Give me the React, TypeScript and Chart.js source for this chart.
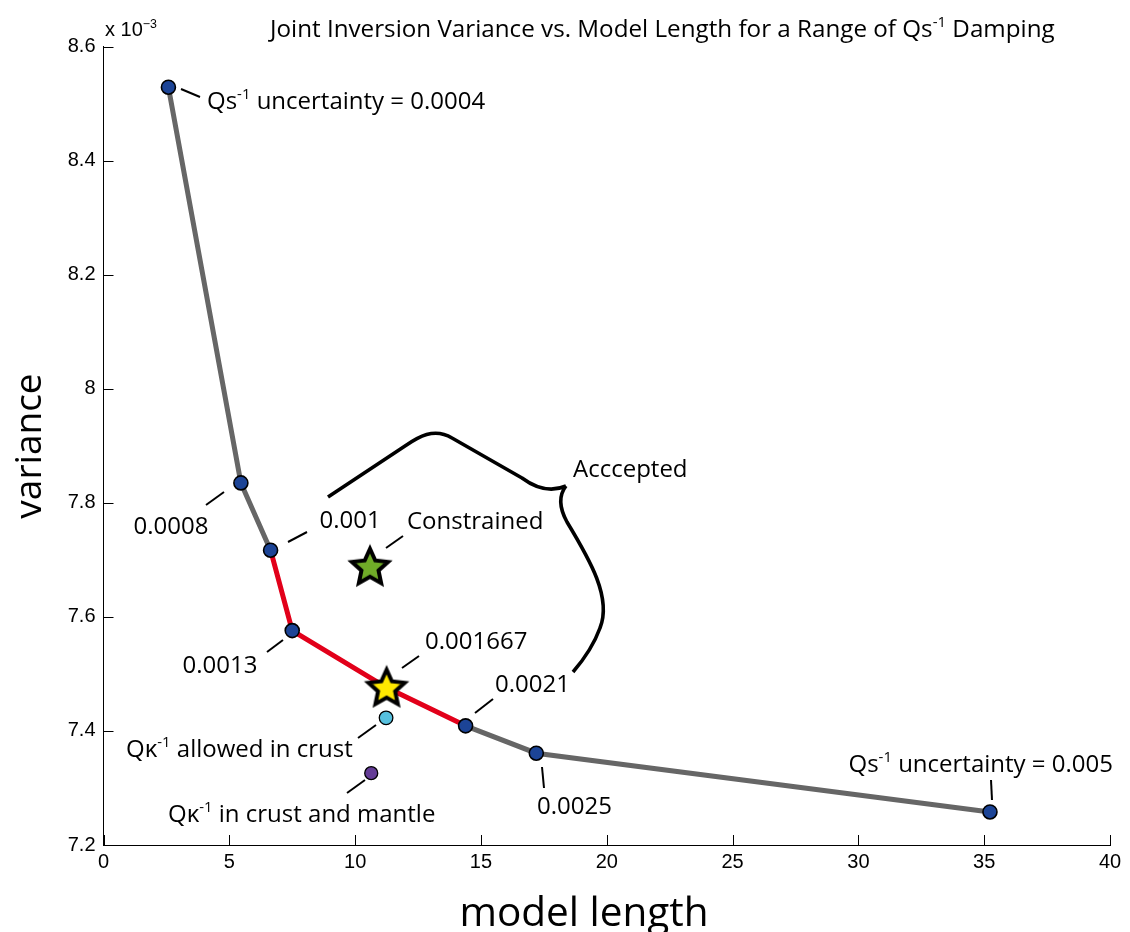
import React, { useEffect, useRef } from 'react';
import { Chart, registerables } from 'chart.js';

Chart.register(...registerables);

// ---------------- data ----------------
const dampingLabels = ['0.0004', '0.0008', '0.001', '0.0013', '0.001667', '0.0021', '0.0025', '0.005'];
const modelLength = [2.58, 5.46, 6.64, 7.5, 11.25, 14.39, 17.2, 35.23];
const variance = [8.529, 7.835, 7.717, 7.576, 7.476, 7.409, 7.361, 7.258]; // x 10^-3
const acceptedFirst = 2; // first index of the accepted (red) part
const acceptedLast = 5; // last index of the accepted (red) part
const selectedIndex = 4; // 0.001667 -> yellow star

const constrainedLength = [10.59];
const constrainedVariance = [7.688];
const crustLength = [11.23];
const crustVariance = [7.423];
const mantleLength = [10.64];
const mantleVariance = [7.326];

const xTicks = [0, 5, 10, 15, 20, 25, 30, 35, 40];
const yTicks = [7.2, 7.4, 7.6, 7.8, 8.0, 8.2, 8.4, 8.6];

const titleText = 'Joint Inversion Variance vs. Model Length for a Range of Qs';
const xTitle = 'model length';
const yTitle = 'variance';

// ---------------- styles ----------------
const GRAY = 'rgb(102,102,102)';
const RED = 'rgb(226,0,26)';
const BLUE = 'rgb(28,68,150)';
const CYAN = 'rgb(86,192,222)';
const PURPLE = 'rgb(100,60,150)';
const YELLOW = 'rgb(255,232,0)';
const GREEN = 'rgb(112,172,40)';
const ANN_FONT = '"Open Sans", "Noto Sans", sans-serif';
const TICK_FONT = '"Liberation Sans", Arial, sans-serif';

type Part = { t: string; sup?: boolean };

function makeStar(fill: string): HTMLCanvasElement {
  const c = document.createElement('canvas');
  c.width = 50;
  c.height = 50;
  const g = c.getContext('2d')!;
  const cx = 25, cy = 26, R = 19, r = 9;
  g.beginPath();
  for (let i = 0; i < 10; i++) {
    const a = -Math.PI / 2 + (i * Math.PI) / 5;
    const rad = i % 2 === 0 ? R : r;
    const px = cx + rad * Math.cos(a);
    const py = cy + rad * Math.sin(a);
    if (i === 0) g.moveTo(px, py);
    else g.lineTo(px, py);
  }
  g.closePath();
  g.fillStyle = fill;
  g.fill();
  g.lineWidth = 4;
  g.lineJoin = 'miter';
  g.strokeStyle = '#000';
  g.stroke();
  return c;
}

function richWidth(ctx: CanvasRenderingContext2D, parts: Part[], size: number, family: string) {
  let w = 0;
  for (const p of parts) {
    ctx.font = `${p.sup ? size * 0.62 : size}px ${family}`;
    w += ctx.measureText(p.t).width;
  }
  return w;
}

function drawRich(
  ctx: CanvasRenderingContext2D,
  parts: Part[],
  x: number,
  yMid: number,
  align: 'left' | 'center' | 'right',
  size: number,
  family: string
) {
  const w = richWidth(ctx, parts, size, family);
  let cx = align === 'left' ? x : align === 'center' ? x - w / 2 : x - w;
  const base = yMid + size * 0.36;
  ctx.textAlign = 'left';
  ctx.textBaseline = 'alphabetic';
  ctx.fillStyle = '#000';
  for (const p of parts) {
    const s = p.sup ? size * 0.62 : size;
    ctx.font = `${s}px ${family}`;
    ctx.fillText(p.t, cx, p.sup ? base - size * 0.42 : base);
    cx += ctx.measureText(p.t).width;
  }
}

// annotation layout (canvas pixels)
type Ann = { parts: Part[]; x: number; y: number; align: 'left' | 'center' | 'right'; lead?: number[] };
const annotations: Ann[] = [
  { parts: [{ t: 'Qs' }, { t: '-1', sup: true }, { t: ' uncertainty = 0.0004' }], x: 207, y: 100, align: 'left', lead: [181, 89, 200, 97] },
  { parts: [{ t: dampingLabels[1] }], x: 171, y: 525, align: 'center', lead: [206, 505, 224, 492] },
  { parts: [{ t: dampingLabels[2] }], x: 350, y: 519, align: 'center', lead: [288, 542, 307, 532] },
  { parts: [{ t: dampingLabels[3] }], x: 220, y: 664, align: 'center', lead: [267, 652, 283, 640] },
  { parts: [{ t: 'Constrained' }], x: 407, y: 520, align: 'left', lead: [386, 548, 403, 536] },
  { parts: [{ t: dampingLabels[4] }], x: 425, y: 640, align: 'left', lead: [402, 668, 419, 656] },
  { parts: [{ t: dampingLabels[5] }], x: 495, y: 683, align: 'left', lead: [475, 713, 493, 699] },
  { parts: [{ t: 'Q\u03ba' }, { t: '-1', sup: true }, { t: ' allowed in crust' }], x: 126, y: 748, align: 'left', lead: [358, 738, 376, 725] },
  { parts: [{ t: 'Q\u03ba' }, { t: '-1', sup: true }, { t: ' in crust and mantle' }], x: 168, y: 813, align: 'left', lead: [347, 793, 365, 780] },
  { parts: [{ t: dampingLabels[6] }], x: 537, y: 805, align: 'left', lead: [542, 767, 544, 788] },
  { parts: [{ t: 'Qs' }, { t: '-1', sup: true }, { t: ' uncertainty = 0.005' }], x: 1113, y: 763, align: 'right', lead: [991, 780, 992, 800] },
  { parts: [{ t: 'Acccepted' }], x: 573, y: 468, align: 'left' },
];

const overlayPlugin = {
  id: 'overlay',
  afterDraw(chart: any) {
    const ctx: CanvasRenderingContext2D = chart.ctx;
    const { left, bottom } = chart.chartArea;
    const xs = chart.scales.x;
    const ys = chart.scales.y;
    ctx.save();
    // inward ticks
    ctx.strokeStyle = '#000';
    ctx.lineWidth = 1;
    ctx.beginPath();
    xs.ticks.forEach((t: any) => {
      const px = Math.round(xs.getPixelForValue(t.value)) + 0.5;
      ctx.moveTo(px, bottom);
      ctx.lineTo(px, bottom - 10);
    });
    ys.ticks.forEach((t: any) => {
      const py = Math.round(ys.getPixelForValue(t.value)) + 0.5;
      ctx.moveTo(left, py);
      ctx.lineTo(left + 10, py);
    });
    ctx.stroke();

    // title
    const titleParts: Part[] = [{ t: titleText }, { t: '-1', sup: true }, { t: ' Damping' }];
    const tw = richWidth(ctx, titleParts, 22, ANN_FONT);
    const tsize = (22 * 785) / tw;
    drawRich(ctx, titleParts, 270, 28, 'left', tsize, ANN_FONT);

    // multiplier
    drawRich(ctx, [{ t: 'x 10' }, { t: '\u22123', sup: true }], 105, 29, 'left', 20, TICK_FONT);

    // axis titles
    drawRich(ctx, [{ t: xTitle }], 584, 911, 'center', 40.5, ANN_FONT);
    ctx.save();
    ctx.translate(28, 446);
    ctx.rotate(-Math.PI / 2);
    drawRich(ctx, [{ t: yTitle }], 0, 0, 'center', 37, ANN_FONT);
    ctx.restore();

    // annotations
    ctx.lineWidth = 2;
    ctx.lineCap = 'butt';
    for (const a of annotations) {
      if (a.lead) {
        ctx.beginPath();
        ctx.moveTo(a.lead[0], a.lead[1]);
        ctx.lineTo(a.lead[2], a.lead[3]);
        ctx.strokeStyle = '#000';
        ctx.stroke();
      }
      drawRich(ctx, a.parts, a.x, a.y, a.align, 24, ANN_FONT);
    }

    // brace
    ctx.lineWidth = 3.6;
    ctx.lineJoin = 'round';
    ctx.lineCap = 'butt';
    ctx.beginPath();
    ctx.moveTo(328, 497);
    ctx.lineTo(405, 446);
    ctx.bezierCurveTo(418, 437, 434, 427, 452, 438);
    ctx.lineTo(522, 478);
    ctx.quadraticCurveTo(545, 495, 566, 486);
    ctx.moveTo(566, 486);
    ctx.quadraticCurveTo(555, 500, 567, 522);
    ctx.bezierCurveTo(590, 560, 612, 598, 600, 628);
    ctx.quadraticCurveTo(592, 650, 573, 672);
    ctx.stroke();
    ctx.restore();
  },
};

export default function App() {
  const ref = useRef<HTMLCanvasElement | null>(null);
  useEffect(() => {
    document.body.style.margin = '0';
    const canvas = ref.current!;
    const yellowStar = makeStar(YELLOW);
    const greenStar = makeStar(GREEN);
    const chart = new Chart(canvas, {
      type: 'scatter',
      data: {
        datasets: [
          {
            label: 'damping',
            data: modelLength.map((x, i) => ({ x, y: variance[i] })),
            showLine: true,
            borderWidth: 5,
            borderColor: GRAY,
            segment: {
              borderColor: (c: any) => (c.p0DataIndex >= acceptedFirst && c.p0DataIndex < acceptedLast ? RED : GRAY),
            },
            pointStyle: (c: any) => (c.dataIndex === selectedIndex ? yellowStar : 'circle'),
            pointRadius: 7,
            pointBackgroundColor: BLUE,
            pointBorderColor: '#000',
            pointBorderWidth: 1.6,
            order: 2,
          } as any,
          {
            label: 'constrained',
            data: constrainedLength.map((x, i) => ({ x, y: constrainedVariance[i] })),
            pointStyle: greenStar as any,
            pointRadius: 19,
            order: 1,
          },
          {
            label: 'crust',
            data: crustLength.map((x, i) => ({ x, y: crustVariance[i] })),
            pointRadius: 6.8,
            pointBackgroundColor: CYAN,
            pointBorderColor: '#000',
            pointBorderWidth: 1.3,
            order: 1,
          },
          {
            label: 'mantle',
            data: mantleLength.map((x, i) => ({ x, y: mantleVariance[i] })),
            pointRadius: 6.5,
            pointBackgroundColor: PURPLE,
            pointBorderColor: '#000',
            pointBorderWidth: 1.3,
            order: 1,
          },
        ],
      },
      options: {
        animation: false,
        responsive: false,
        devicePixelRatio: 1,
        layout: { padding: { top: 46.7, right: 13.5, left: 0, bottom: 0 } },
        plugins: { legend: { display: false }, tooltip: { enabled: false } },
        scales: {
          x: {
            type: 'linear',
            min: 0,
            max: 40,
            afterBuildTicks: (s: any) => {
              s.ticks = xTicks.map((v) => ({ value: v }));
            },
            afterFit: (s: any) => {
              s.height = 87;
              s.paddingLeft = 0;
              s.paddingRight = 0;
            },
            grid: { drawOnChartArea: false, drawTicks: false },
            border: { display: true, color: '#000', width: 1 },
            ticks: {
              color: '#000',
              font: { family: TICK_FONT, size: 20 },
              padding: 5,
              maxRotation: 0,
              autoSkip: false,
            },
          },
          y: {
            type: 'linear',
            min: 7.2,
            max: 8.6,
            afterBuildTicks: (s: any) => {
              s.ticks = yTicks.map((v) => ({ value: v }));
            },
            afterFit: (s: any) => {
              s.width = 103.5;
              s.paddingTop = 0;
              s.paddingBottom = 0;
            },
            grid: { drawOnChartArea: false, drawTicks: false },
            border: { display: true, color: '#000', width: 1 },
            ticks: {
              color: '#000',
              font: { family: TICK_FONT, size: 20 },
              padding: 8,
              autoSkip: false,
              callback: (v: any) => String(Number(Number(v).toFixed(1))),
            },
          },
        },
      },
      plugins: [overlayPlugin],
    });
    return () => chart.destroy();
  }, []);
  return (
    <div style={{ width: 1130, height: 932, overflow: 'hidden' }}>
      <canvas ref={ref} width={1130} height={932} style={{ display: 'block' }} />
    </div>
  );
}
